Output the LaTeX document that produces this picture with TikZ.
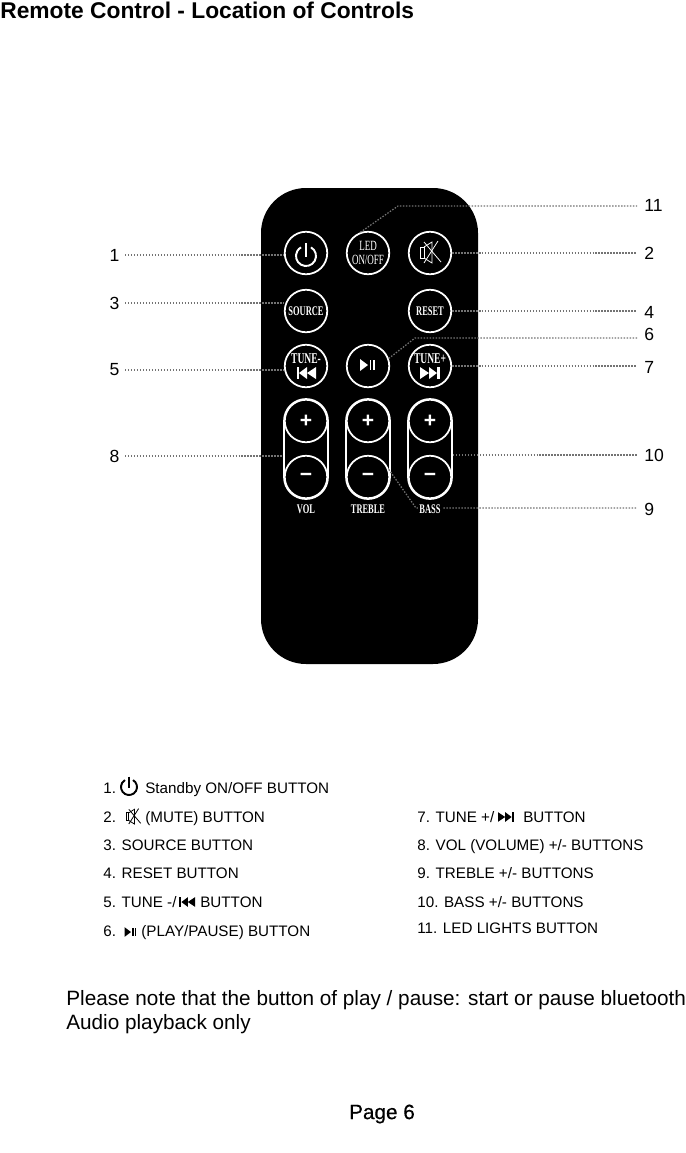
\documentclass[tikz,border=0pt]{standalone}
\usepackage{fontspec}
\setmainfont{Liberation Sans}
\newfontfamily\btnfont[FakeStretch=0.64,BoldFont={Liberation Serif Bold}]{Liberation Serif}
\newfontfamily\pagefont[FakeBold=.5]{Liberation Sans}
\tikzset{
  btn/.style={draw=white,line width=1pt,circle,minimum size=.85cm,inner sep=0pt,text=white,font=\btnfont\bfseries\fontsize{7.5}{8}\selectfont,align=center},
  pmbtn/.style={btn,font=\bfseries\fontsize{12}{12}\selectfont},
  pill/.style={draw=white,line width=1pt,rounded corners=.44cm,minimum width=.88cm,minimum height=2cm,inner sep=0pt},
  capname/.style={text=white,inner sep=0pt,font=\btnfont\bfseries\fontsize{7.5}{8}\selectfont},
  leader/.style={draw=black!55,line width=.7pt,dash pattern=on .85pt off .85pt},
  numleft/.style={anchor=east,inner xsep=3pt,inner ysep=0pt,font=\fontsize{10}{12}\selectfont},
  numright/.style={anchor=west,inner xsep=4pt,inner ysep=0pt,font=\fontsize{10}{12}\selectfont},
  rowtext/.style={anchor=base west,inner sep=0pt,font=\fontsize{8.65}{10}\selectfont},
  powericon/.pic={
    \draw[line width=1.1pt] (-60:10) arc (-60:240:10);
    \draw[line width=1.1pt] (0,-13) -- (0,1);
  },
  muteicon/.pic={
    \draw[line width=.45pt] (-10,-6) rectangle (-6,5);
    \draw[line width=.45pt] (-6,-6) -- (2,-11) -- (2,10) -- (-6,5);
    \draw[line width=.45pt] (-6,-11) -- (11,9);
    \draw[line width=.45pt] (8,-12) -- (-6,10);
  },
  playicon/.pic={
    \fill (-8,-6) -- (-8,6) -- (0,0) -- cycle;
    \fill (1.5,-5) rectangle (3.3,5);
    \fill (5,-5) rectangle (6.8,5);
  },
  nexticon/.pic={
    \fill (-10,-6) -- (-10,6) -- (-1,0) -- cycle;
    \fill (-1,-6) -- (-1,6) -- (7,0) -- cycle;
    \fill (7,-6) rectangle (9.5,6);
  },
  previcon/.pic={
    \fill (10,-6) -- (10,6) -- (1,0) -- cycle;
    \fill (1,-6) -- (1,6) -- (-7,0) -- cycle;
    \fill (-7,-6) rectangle (-9.5,6);
  }
}
\begin{document}
\begin{tikzpicture}[x=.02cm,y=-.02cm]
\useasboundingbox (0,0) rectangle (686,1153);

\node[anchor=west,inner sep=0pt,font=\bfseries\fontsize{12.96}{14}\selectfont] (title) at (0,10) {Remote Control - Location of Controls};

% remote body
\fill[black,rounded corners=.9cm] (261,188) rectangle (478,664);

% buttons
\node[btn] (bpower) at (306,253) {};
\node[btn,font=\btnfont\fontsize{8}{8}\selectfont] (bled) at (368,253) {LED\\[-.5pt]ON/OFF};
\node[btn] (bmute) at (430,253) {};
\node[btn] (bsource) at (306,311) {SOURCE};
\node[btn] (breset) at (430,311) {RESET};
\node[btn] (btunem) at (306,366) {};
\node[btn] (bplay) at (368,366) {};
\node[btn] (btunep) at (430,366) {};
\node[capname,font=\btnfont\bfseries\fontsize{8.5}{8}\selectfont] (ttunem) at (306,359) {TUNE-};
\node[capname,font=\btnfont\bfseries\fontsize{8.5}{8}\selectfont] (ttunep) at (430,359) {TUNE+};
\pic[white] at (306,256) {powericon};
\pic[white] at (430,253) {muteicon};
\pic[white] at (368,365) {playicon};
\pic[white] at (306,373) {previcon};
\pic[white] at (430,373) {nexticon};

% volume pairs
\node[pill] (pvol) at (306,449) {};
\node[pill] (ptreble) at (368,449) {};
\node[pill] (pbass) at (430,449) {};
\node[pmbtn] (bvolp) at (306,421) {+};
\node[pmbtn] (bvolm) at (306,477) {−};
\node[pmbtn] (btrebp) at (368,421) {+};
\node[pmbtn] (btrebm) at (368,477) {−};
\node[pmbtn] (bbassp) at (430,421) {+};
\node[pmbtn] (bbassm) at (430,477) {−};
\node[capname] (tvol) at (306,509) {VOL};
\node[capname] (ttreble) at (368,509) {TREBLE};

% numbers
\node[numleft] (n1) at (125,255) {1};
\node[numleft] (n3) at (125,303) {3};
\node[numleft] (n5) at (125,370) {5};
\node[numleft] (n8) at (125,456) {8};
\node[numright] (n11) at (637,205) {11};
\node[numright] (n2) at (637,253) {2};
\node[numright] (n4) at (637,312) {4};
\node[numright] (n6) at (637,334) {6};
\node[numright] (n7) at (637,367) {7};
\node[numright] (n10) at (637,455) {10};
\node[numright] (n9) at (637,509) {9};

% leader lines
\coordinate (k11) at (398,206);
\coordinate (k6) at (415,338);
\coordinate (k9) at (416,508);
\draw[leader] (n1.east) -- (n1.east -| bpower.west);
\draw[leader] (n3.east) -- (n3.east -| bsource.west);
\draw[leader] (n5.east) -- (n5.east -| btunem.west);
\draw[leader] (n8.east) -- (n8.east -| pvol.west);
\draw[leader] (bled.110) -- (k11) -- (k11 -| n11.west);
\draw[leader] (bmute.east) -- (bmute.east -| n2.west);
\draw[leader] (breset.east) -- (breset.east -| n4.west);
\draw[leader] (bplay.20) -- (k6) -- (k6 -| n6.west);
\draw[leader] (btunep.east) -- (btunep.east -| n7.west);
\draw[leader] (n10.west -| pbass.east) -- (n10.west);
\draw[leader] (btrebm.20) -- (k9) -- (k9 -| n9.west);
\node[capname,fill=black,inner xsep=1pt] (tbass) at (430,509) {BASS};

% list, left column
\node[rowtext] (r1) at (103,793) {1.};
\pic[scale=.8] at (129,787) {powericon};
\node[rowtext] (r1b) at (145,793) {Standby ON/OFF BUTTON};
\node[rowtext] (r2) at (103,822) {2.};
\pic[scale=.7] at (133,817) {muteicon};
\node[rowtext] (r2b) at (145,822) {(MUTE) BUTTON};
\node[rowtext] (r3) at (103,850) {3. SOURCE BUTTON};
\node[rowtext] (r4) at (103,878) {4. RESET BUTTON};
\node[rowtext] (r5) at (103,907) {5. TUNE -/};
\pic[scale=.8] at (187,902) {previcon};
\node[rowtext] (r5b) at (200,907) {BUTTON};
\node[rowtext] (r6) at (103,936) {6.};
\pic[scale=.8] at (131,932) {playicon};
\node[rowtext] (r6b) at (141,936) {(PLAY/PAUSE) BUTTON};

% list, right column
\node[rowtext] (r7) at (417,822) {7. TUNE +/};
\pic[scale=.8] at (506,817) {nexticon};
\node[rowtext] (r7b) at (523,822) {BUTTON};
\node[rowtext] (r8) at (417,850) {8. VOL (VOLUME) +/- BUTTONS};
\node[rowtext] (r9) at (417,878) {9. TREBLE +/- BUTTONS};
\node[rowtext] (r10) at (417,907) {10. BASS +/- BUTTONS};
\node[rowtext] (r11) at (417,933) {11. LED LIGHTS BUTTON};

% note
\node[anchor=west,inner sep=0pt,font=\fontsize{11.8}{13.6}\selectfont,align=left] (note) at (66,1012) {Please note that the button of play / pause: start or pause bluetooth\\Audio playback only};

\node[inner sep=0pt,font=\pagefont\fontsize{11.8}{12}\selectfont] (page) at (382,1114) {Page 6};
\end{tikzpicture}
\end{document}
